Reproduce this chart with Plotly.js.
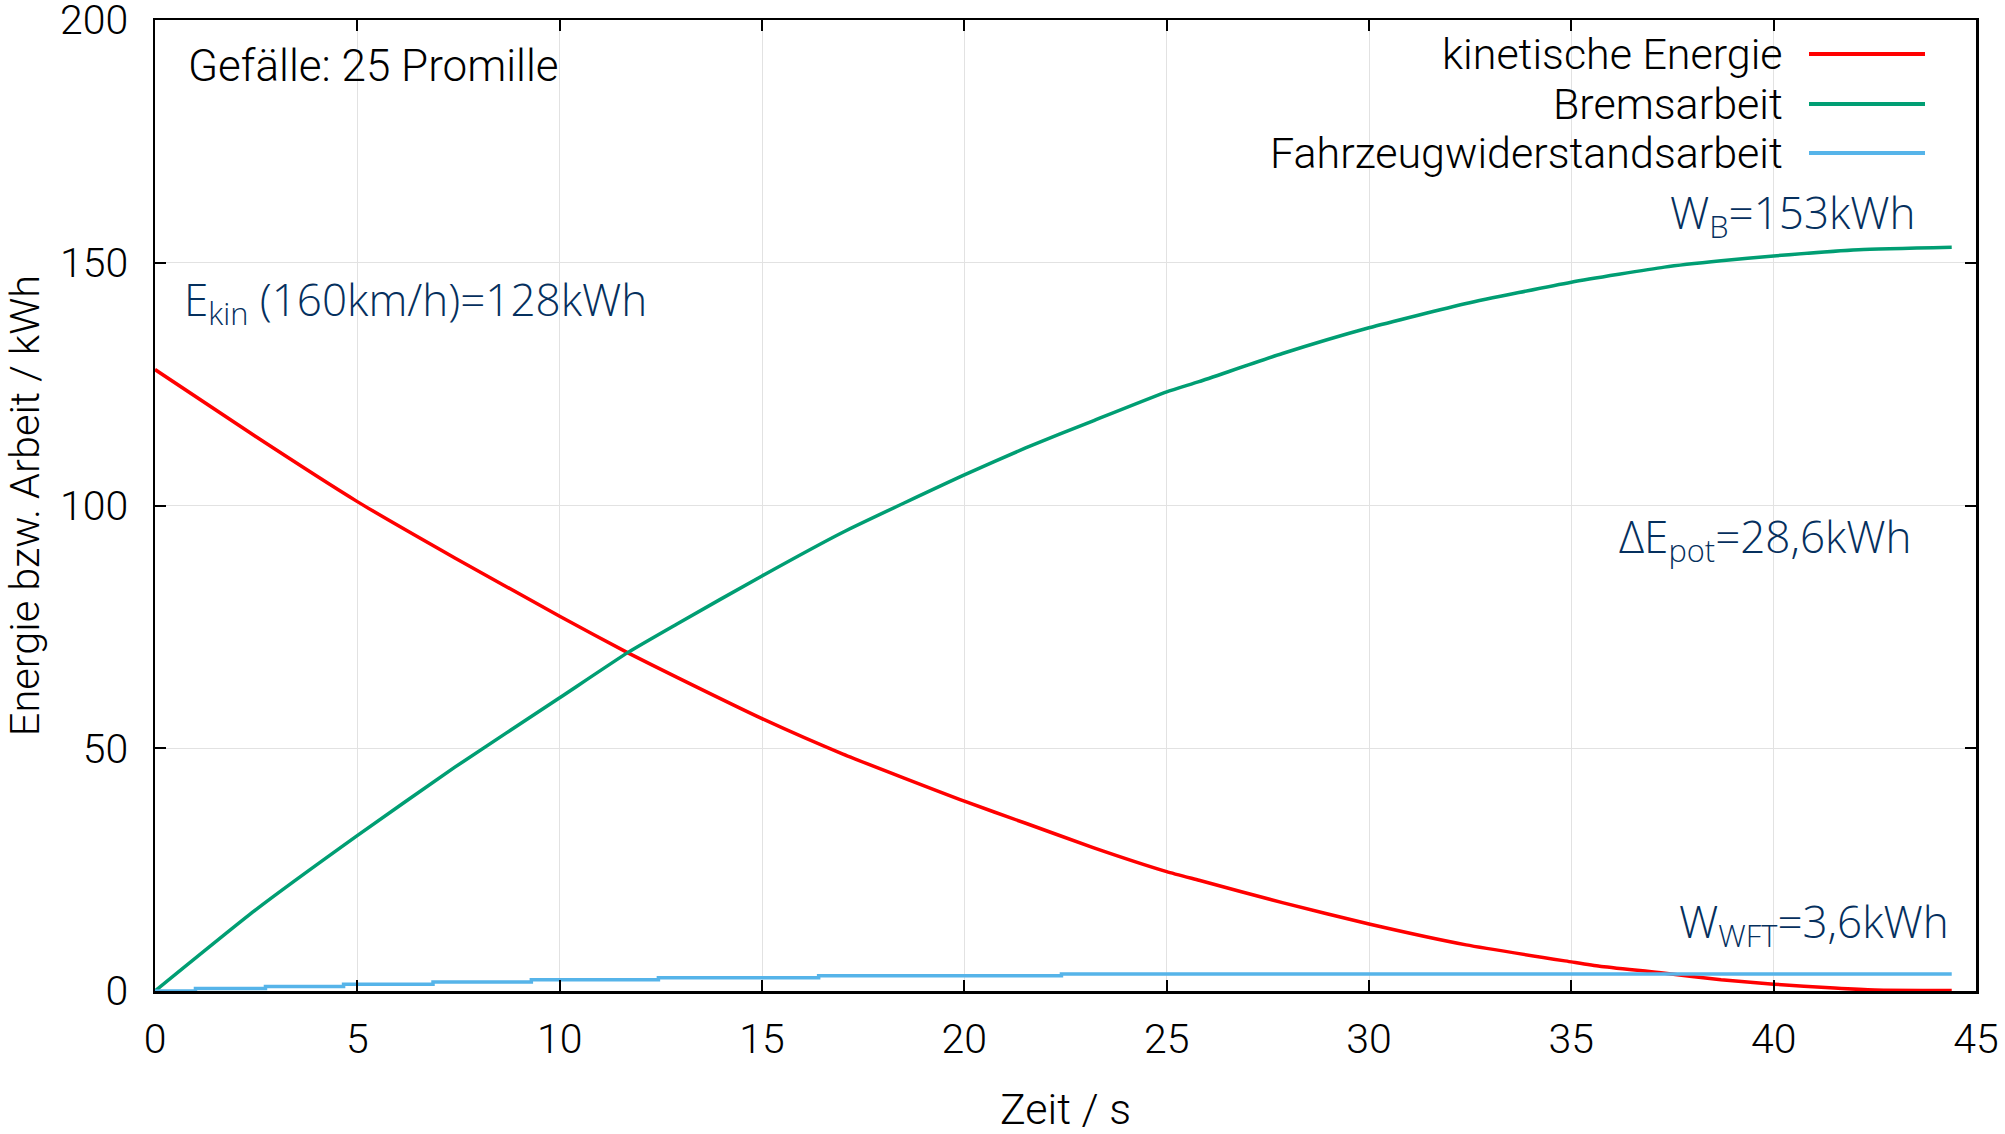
<!DOCTYPE html>
<html>
<head>
<meta charset="utf-8">
<script src="https://cdn.plot.ly/plotly-3.0.1.min.js"></script>
<style>
  html, body { margin: 0; padding: 0; background: #ffffff; }
  #chart { width: 2005px; height: 1134px; }
</style>
</head>
<body>
<div id="chart"></div>
<script>
// ---- data ----
const seriesNames = ["kinetische Energie", "Bremsarbeit", "Fahrzeugwiderstandsarbeit"];

const tKin = [0, 2.47, 4.98, 7.41, 10, 11.7, 12.9, 15, 17, 20, 21.5, 23.2, 25, 25.8, 27.86, 30, 32.4, 35, 35.7, 37.16, 38.7, 40, 41.5, 42.5, 44.4];
const eKin = [128, 114.3, 100.9, 89.2, 77.2, 69.6, 64.6, 56.1, 48.8, 39.1, 34.6, 29.5, 24.6, 22.8, 18.2, 13.8, 9.5, 6.0, 5.1, 3.8, 2.3, 1.4, 0.6, 0.2, 0.1];

const tBrems = [0, 2.47, 4.98, 7.41, 10, 11.7, 12.9, 15, 17, 20, 21.5, 23.2, 25, 25.8, 27.86, 30, 32.4, 35, 37.3, 38.7, 40, 42.1, 44.4];
const wBrems = [0, 16.6, 31.9, 46.1, 60.4, 69.8, 75.6, 85.5, 94.5, 106.3, 111.8, 117.5, 123.4, 125.5, 131.3, 136.6, 141.6, 146.0, 149.1, 150.4, 151.4, 152.7, 153.2];

const tWft = [0, 1.0, 2.73, 4.66, 6.87, 9.3, 12.44, 16.4, 22.4, 44.4];
const wWft = [0, 0.5, 0.95, 1.4, 1.85, 2.3, 2.75, 3.15, 3.5, 3.5];

const xTicks = [0, 5, 10, 15, 20, 25, 30, 35, 40, 45];
const yTicks = [0, 50, 100, 150, 200];

const labelGefaelle = "Gefälle: 25 Promille";
const labelEkin = "E<sub>kin</sub> (160km/h)=128kWh";
const labelWB = "W<sub>B</sub>=153kWh";
const labelEpot = "ΔE<sub>pot</sub>=28,6kWh";
const labelWWFT = "W<sub>WFT</sub>=3,6kWh";
const xTitle = "Zeit / s";
const yTitle = "Energie bzw. Arbeit / kWh";

// ---- styling ----
const colors = ["#ff0000", "#009e73", "#56b4e9"];
const W = 2005, H = 1134;
const M = { l: 155, r: 29, t: 20, b: 143 };
const PW = W - M.l - M.r, PH = H - M.t - M.b;
const px = x => (x - M.l) / PW;          // pixel -> paper x
const py = y => (H - M.b - y) / PH;       // pixel -> paper y

const blackFont = { family: "Roboto, 'Liberation Sans', sans-serif", size: 43, color: "#000000", weight: 300 };
const tickFont = { family: "Roboto, 'Liberation Sans', sans-serif", size: 41, color: "#000000", weight: 300 };
const blueFont = { family: "'Open Sans', sans-serif", size: 44, color: "#05305e" };

const traces = [
  { x: tKin, y: eKin, mode: "lines", name: seriesNames[0], line: { color: colors[0], width: 3.5, shape: "spline", smoothing: 0.5 } },
  { x: tBrems, y: wBrems, mode: "lines", name: seriesNames[1], line: { color: colors[1], width: 3.5, shape: "spline", smoothing: 0.5 } },
  { x: tWft, y: wWft, mode: "lines", name: seriesNames[2], line: { color: colors[2], width: 3.5, shape: "hv" } }
];

const legendRows = [54, 104, 153];
const shapes = [
  // opaque key box covering the grid
  { type: "rect", xref: "paper", yref: "paper", x0: px(1110), x1: 1, y0: py(180), y1: 1,
    fillcolor: "#ffffff", line: { width: 0 }, layer: "between" }
];
const annotations = [];
seriesNames.forEach((n, i) => {
  annotations.push({ xref: "paper", yref: "paper", x: px(1785), y: py(legendRows[i]),
    xanchor: "right", yanchor: "middle", text: n, showarrow: false, font: blackFont });
  shapes.push({ type: "line", xref: "paper", yref: "paper", x0: px(1809), x1: px(1925),
    y0: py(legendRows[i]), y1: py(legendRows[i]), line: { color: colors[i], width: 4 }, layer: "above" });
});
annotations.push(
  { xref: "paper", yref: "paper", x: px(186), y: py(66), xanchor: "left", yanchor: "middle",
    text: labelGefaelle, showarrow: false, font: Object.assign({}, blackFont, { size: 44 }) },
  { xref: "paper", yref: "paper", x: px(182), y: py(301), xanchor: "left", yanchor: "middle",
    text: labelEkin, showarrow: false, font: blueFont },
  { xref: "paper", yref: "paper", x: px(1918), y: py(215), xanchor: "right", yanchor: "middle",
    text: labelWB, showarrow: false, font: blueFont },
  { xref: "paper", yref: "paper", x: px(1914), y: py(538), xanchor: "right", yanchor: "middle",
    text: labelEpot, showarrow: false, font: blueFont },
  { xref: "paper", yref: "paper", x: px(1951), y: py(923), xanchor: "right", yanchor: "middle",
    text: labelWWFT, showarrow: false, font: blueFont }
);

const axisCommon = {
  showline: true, linecolor: "#000000", linewidth: 2.5, mirror: "ticks",
  ticks: "inside", ticklen: 11, tickwidth: 2, tickcolor: "#000000",
  showgrid: true, gridcolor: "#e2e2e2", gridwidth: 1, zeroline: false,
  tickfont: tickFont, automargin: false, ticklabeloverflow: "allow"
};

const layout = {
  width: W, height: H,
  margin: M,
  paper_bgcolor: "#ffffff", plot_bgcolor: "#ffffff",
  showlegend: false,
  font: blackFont,
  xaxis: Object.assign({}, axisCommon, {
    range: [0, 45], tickvals: xTicks, ticktext: xTicks.map(String),
    ticklabelstandoff: 10,
    title: { text: xTitle, font: blackFont, standoff: 45 }
  }),
  yaxis: Object.assign({}, axisCommon, {
    range: [0, 200], tickvals: yTicks, ticktext: yTicks.map(String),
    ticklabelstandoff: 16,
    title: { text: yTitle, font: Object.assign({}, blackFont, { size: 41.5 }), standoff: 30 }
  }),
  shapes: shapes,
  annotations: annotations
};

Plotly.newPlot("chart", traces, layout, { displayModeBar: false, staticPlot: true });
</script>
</body>
</html>
